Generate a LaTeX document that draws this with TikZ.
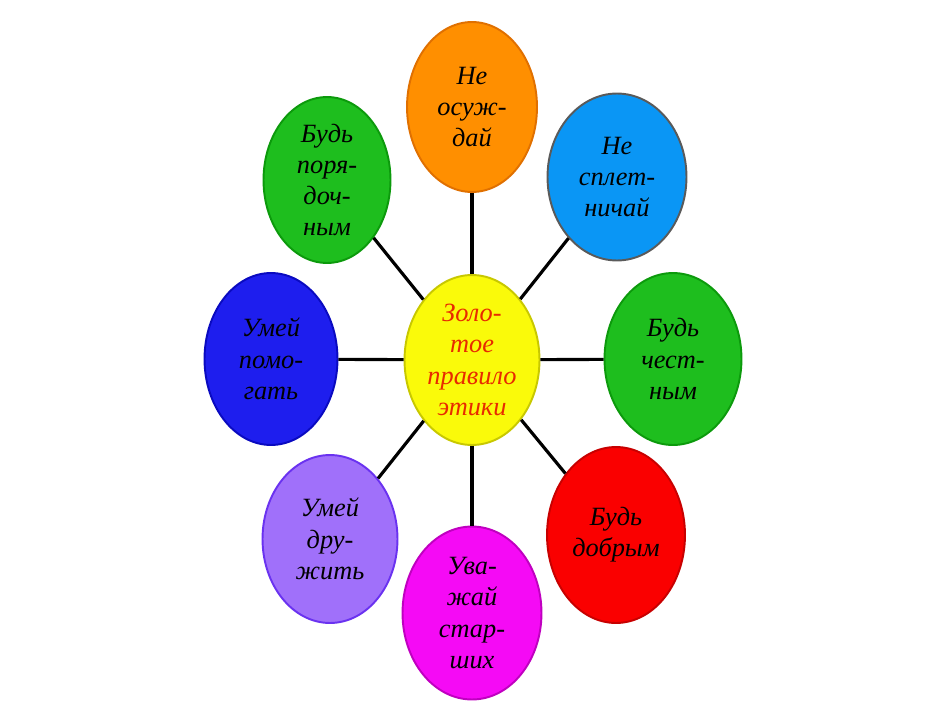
\documentclass[tikz,border=0pt]{standalone}
\usepackage{fontspec}
\setmainfont{Liberation Serif}
\usetikzlibrary{shapes.geometric}

\definecolor{petOrange}{HTML}{FF8F00}
\definecolor{petOrangeD}{HTML}{E07000}
\definecolor{petSky}{HTML}{0A96F5}
\definecolor{petSkyD}{HTML}{5A5A5A}
\definecolor{petGreen}{HTML}{1EBE1E}
\definecolor{petGreenD}{HTML}{0C9A0C}
\definecolor{petBlue}{HTML}{1E1EEE}
\definecolor{petBlueD}{HTML}{0A0AC0}
\definecolor{petViolet}{HTML}{A070FA}
\definecolor{petVioletD}{HTML}{6A32F0}
\definecolor{petPink}{HTML}{F50AF5}
\definecolor{petPinkD}{HTML}{C000C0}
\definecolor{petRed}{HTML}{FA0000}
\definecolor{petRedD}{HTML}{C80000}
\definecolor{petYellow}{HTML}{FAFA0A}
\definecolor{petYellowD}{HTML}{C8C800}
\definecolor{coreText}{HTML}{E82A00}

\begin{document}
\begin{tikzpicture}[
    x=0.02cm, y=-0.02cm,
    petal/.style args={#1/#2}{ellipse, draw=#2, fill=#1, line width=1.1pt, inner sep=0pt,
        minimum width=2.7cm, minimum height=3.4cm, align=center,
        font=\fontsize{15}{17.8}\selectfont\itshape, text=black},
    spoke/.style={line width=1.8pt, black},
]
    \useasboundingbox (0,0) rectangle (940,713);

    % spokes are drawn after, clipped at the petal borders
    \node[petal=petYellow/petYellowD, text=coreText] (core) at (472,360) {Золо-\\тое\\правило\\этики};

    \node[petal=petOrange/petOrangeD, minimum width=2.6cm] (top) at (472,107) {Не\\осуж-\\дай};
    \node[petal=petSky/petSkyD, minimum width=2.78cm, minimum height=3.34cm] (tr) at (617,177) {Не\\сплет-\\ничай};
    \node[petal=petGreen/petGreenD, minimum width=2.74cm, minimum height=3.44cm] (rt) at (673,359) {Будь\\чест-\\ным};
    \node[petal=petRed/petRedD, minimum width=2.76cm, minimum height=3.52cm] (br) at (616,535) {Будь\\добрым};
    \node[petal=petPink/petPinkD, minimum width=2.78cm, minimum height=3.46cm] (bot) at (472,613) {Ува-\\жай\\стар-\\ших};
    \node[petal=petViolet/petVioletD, minimum height=3.36cm] (bl) at (330,539) {Умей\\дру-\\жить};
    \node[petal=petBlue/petBlueD, minimum width=2.66cm, minimum height=3.44cm] (lt) at (271,359) {Умей\\помо-\\гать};
    \node[petal=petGreen/petGreenD, minimum width=2.54cm, minimum height=3.32cm] (tl) at (327,180) {Будь\\поря-\\доч-\\ным};

    \foreach \p in {top, tr, rt, br, bot, bl, lt, tl} {
        \draw[spoke] (core) -- (\p);
    }
\end{tikzpicture}
\end{document}
